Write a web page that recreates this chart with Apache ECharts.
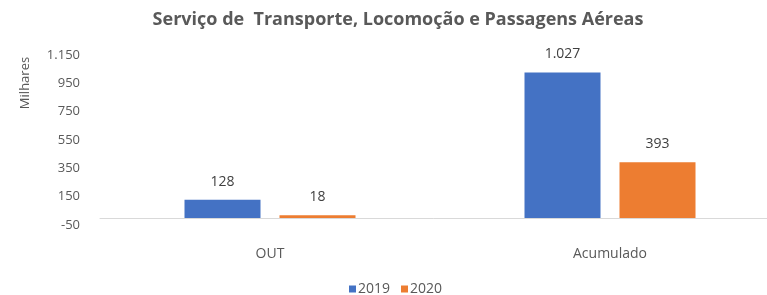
<!DOCTYPE html>
<html>
<head>
<meta charset="utf-8">
<script src="https://cdn.jsdelivr.net/npm/echarts@6/dist/echarts.min.js"></script>
<style>
  html, body { margin: 0; padding: 0; background: #fff; }
  #main { width: 767px; height: 295px; }
</style>
</head>
<body>
<div id="main"></div>
<script>
// categorias e séries
var categorias = ['OUT', 'Acumulado'];
var serie2019 = [128, 1027];
var serie2020 = [18, 393];
var anos = ['2019', '2020'];

// formato pt-BR: 1150 -> 1.150
function fmt(v){
    return Number(v).toLocaleString('pt-BR');
}

var myChart = echarts.init(document.getElementById('main'));
var fonte = '"Open Sans", "Noto Sans", sans-serif';

var rotulo = {
    show: true, position: 'top', distance: 11,
    fontFamily: fonte, fontSize: 14, color: '#404040',
    formatter: function(p){ return fmt(p.value); }
};

var option = {
    animation: false,
    color: ['#4472c4', '#ed7d31'],
    title: {
        text: 'Serviço de  Transporte, Locomoção e Passagens Aéreas',
        left: 393,
        textAlign: 'center',
        top: 6,
        textStyle: { fontFamily: fonte, fontSize: 18, fontWeight: 'bold', color: '#595959' }
    },
    legend: {
        data: anos,
        top: 277,
        left: 344,
        itemWidth: 7,
        itemHeight: 7,
        itemGap: 11,
        icon: 'rect',
        textStyle: { fontFamily: fonte, fontSize: 14, color: '#595959', padding: [0, 0, 0, -3] }
    },
    grid: { left: 100, top: 55, width: 680, height: 170, outerBoundsMode: 'none' },
    xAxis: {
        type: 'category',
        data: categorias,
        axisTick: { show: false },
        axisLine: { onZero: true, lineStyle: { color: '#d9d9d9', width: 1 } },
        axisLabel: { fontFamily: fonte, fontSize: 14, color: '#595959', margin: 22 }
    },
    yAxis: {
        type: 'value',
        min: -50,
        max: 1150,
        interval: 200,
        splitLine: { show: false },
        axisLine: { show: false },
        axisTick: { show: false },
        axisLabel: {
            fontFamily: fonte, fontSize: 13, color: '#595959', margin: 20,
            formatter: function(v){ return fmt(v); }
        }
    },
    graphic: [{
        type: 'text',
        x: 25,
        y: 83,
        rotation: Math.PI / 2,
        style: {
            text: 'Milhares',
            fontFamily: fonte,
            fontSize: 13,
            fill: '#595959',
            align: 'center',
            verticalAlign: 'middle'
        }
    }],
    series: [
        { name: anos[0], type: 'bar', data: serie2019, barWidth: 76, barGap: '25%', label: rotulo },
        { name: anos[1], type: 'bar', data: serie2020, barWidth: 76, barGap: '25%', label: rotulo }
    ]
};

myChart.setOption(option);
</script>
</body>
</html>
